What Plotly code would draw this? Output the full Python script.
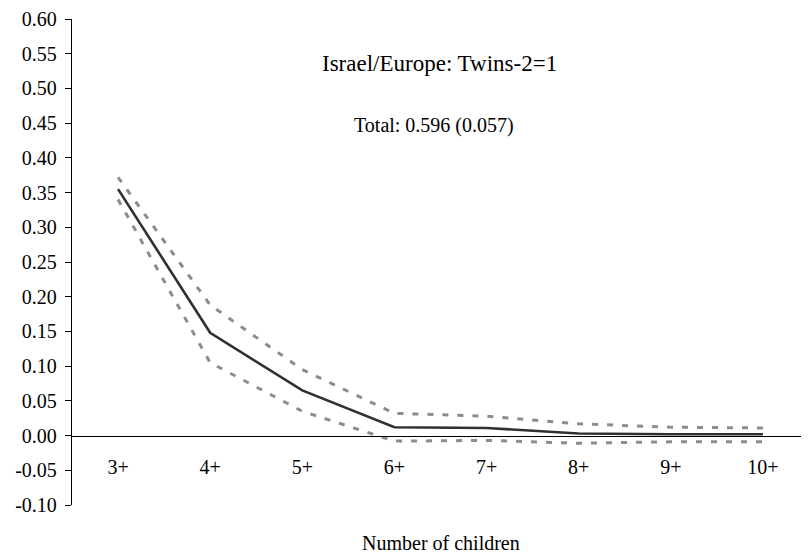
import plotly.graph_objects as go

categories = ["3+", "4+", "5+", "6+", "7+", "8+", "9+", "10+"]
estimate = [0.355, 0.148, 0.065, 0.012, 0.011, 0.003, 0.002, 0.002]
upper = [0.372, 0.188, 0.095, 0.032, 0.028, 0.017, 0.012, 0.011]
lower = [0.340, 0.105, 0.035, -0.008, -0.007, -0.011, -0.009, -0.009]

y_tickvals = [-0.10, -0.05, 0.00, 0.05, 0.10, 0.15, 0.20, 0.25, 0.30, 0.35, 0.40, 0.45, 0.50, 0.55, 0.60]
y_ticktext = ["-0.10", "-0.05", "0.00", "0.05", "0.10", "0.15", "0.20", "0.25", "0.30",
              "0.35", "0.40", "0.45", "0.50", "0.55", "0.60"]

title_text = "Israel/Europe: Twins-2=1"
subtitle_text = "Total: 0.596 (0.057)"
x_title = "Number of children"

FONT = "Liberation Serif, Times New Roman, serif"
y_min, y_max = -0.10, 0.60

fig = go.Figure()
for vals in (upper, lower):
    fig.add_trace(go.Scatter(
        x=categories, y=vals, mode="lines",
        line=dict(color="#8c8c8c", width=3, dash="6px,9px"),
        showlegend=False, hoverinfo="skip"))
fig.add_trace(go.Scatter(
    x=categories, y=estimate, mode="lines",
    line=dict(color="#303030", width=2.6),
    showlegend=False))

# page body has an 8px default margin, so the figure is sized to fit the window
fig.update_layout(
    template="none",
    width=801, height=549,
    margin=dict(l=64, r=0, t=11, b=52, autoexpand=False),
    paper_bgcolor="white", plot_bgcolor="white",
    font=dict(family=FONT, size=20, color="black"),
    xaxis=dict(
        type="category", range=[-0.5, 7.5], automargin=False,
        anchor="free", position=(0 - y_min) / (y_max - y_min),
        showline=True, linecolor="black", linewidth=1.3,
        showgrid=False, zeroline=False, ticks="",
        ticklabelstandoff=13,
        tickfont=dict(family=FONT, size=20, color="black"),
    ),
    yaxis=dict(
        range=[y_min, y_max], tickvals=y_tickvals, ticktext=y_ticktext,
        automargin=False,
        showline=True, linecolor="black", linewidth=1.3,
        ticks="outside", ticklen=6, tickcolor="black", tickwidth=1.3,
        showgrid=False, zeroline=False,
        ticklabelstandoff=4,
        tickfont=dict(family=FONT, size=20, color="black"),
    ),
    annotations=[
        dict(text=title_text, x=0.4986, y=0.909, xref="paper", yref="paper",
             showarrow=False, xanchor="center", yanchor="middle",
             font=dict(family=FONT, size=23, color="black")),
        dict(text=subtitle_text, x=0.491, y=0.780, xref="paper", yref="paper",
             showarrow=False, xanchor="center", yanchor="middle",
             font=dict(family=FONT, size=20, color="black")),
        dict(text=x_title, x=0.5, y=-0.078, xref="paper", yref="paper",
             showarrow=False, xanchor="center", yanchor="middle",
             font=dict(family=FONT, size=20, color="black")),
    ],
)

fig.write_html("out.html")
